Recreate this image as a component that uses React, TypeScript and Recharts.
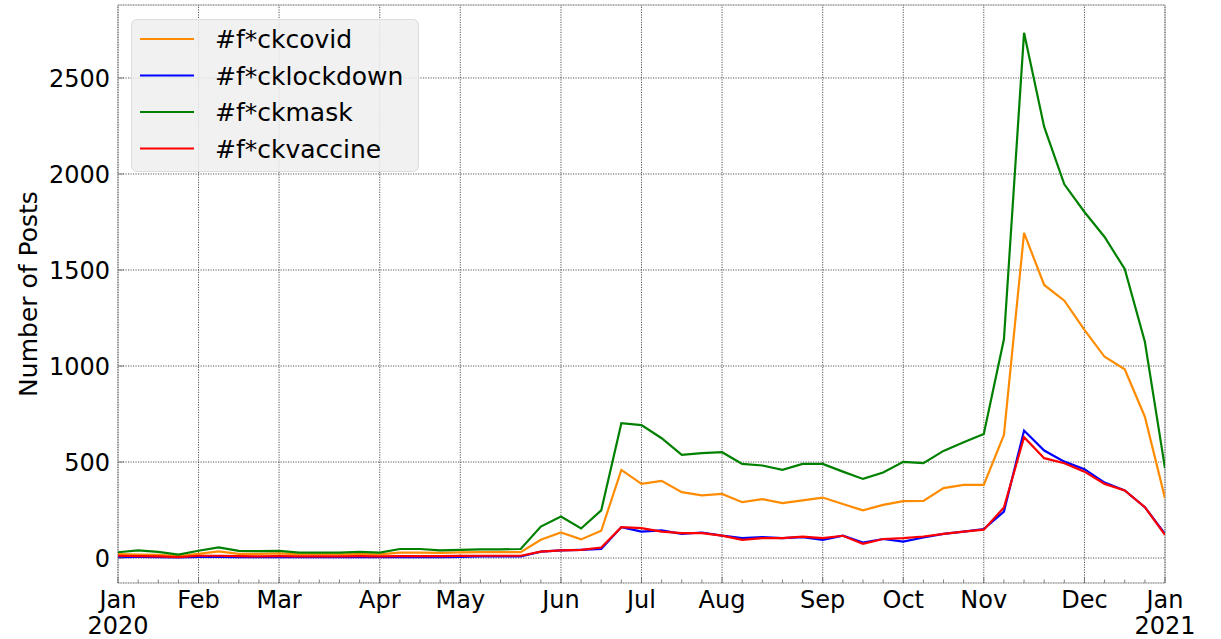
import React from 'react';
import {
  LineChart,
  Line,
  XAxis,
  YAxis,
  CartesianGrid,
  ReferenceLine,
  ReferenceArea,
  Legend,
} from 'recharts';

// Weekly index (week 0 = first week of Jan 2020, week 52 = first week of Jan 2021)
const WEEKS = [
  0, 1, 2, 3, 4, 5, 6, 7, 8, 9, 10, 11, 12, 13, 14, 15, 16, 17, 18, 19, 20,
  21, 22, 23, 24, 25, 26, 27, 28, 29, 30, 31, 32, 33, 34, 35, 36, 37, 38, 39,
  40, 41, 42, 43, 44, 45, 46, 47, 48, 49, 50, 51, 52,
];

const COVID = [
  20, 18, 16, 10, 22, 35, 22, 22, 24, 19, 19, 19, 21, 19, 28, 28, 27, 29, 31,
  31, 31, 95, 133, 97, 142, 459, 386, 402, 343, 326, 334, 291, 307, 286, 300,
  315, 281, 248, 277, 296, 298, 364, 381, 381, 641, 1693, 1422, 1340, 1188,
  1048, 983, 736, 312,
];

const LOCKDOWN = [
  5, 6, 5, 3, 6, 6, 5, 5, 5, 4, 4, 4, 5, 4, 5, 5, 5, 6, 8, 8, 8, 33, 40, 43,
  47, 161, 138, 144, 126, 133, 117, 104, 109, 104, 109, 95, 116, 81, 99, 86,
  107, 126, 138, 151, 242, 664, 560, 502, 463, 393, 352, 265, 126,
];

const MASK = [
  30, 40, 32, 18, 38, 55, 37, 36, 37, 28, 28, 28, 32, 28, 47, 47, 40, 42, 45,
  45, 47, 164, 216, 154, 248, 702, 692, 624, 537, 546, 551, 490, 482, 459, 490,
  490, 450, 412, 445, 501, 494, 558, 603, 646, 1139, 2735, 2245, 1946, 1802,
  1672, 1505, 1126, 468,
];

const VACCINE = [
  12, 10, 9, 5, 12, 12, 10, 9, 10, 9, 9, 9, 10, 9, 10, 10, 10, 11, 12, 12, 12,
  33, 40, 43, 55, 161, 156, 138, 130, 130, 117, 95, 104, 104, 112, 104, 116,
  74, 99, 104, 112, 126, 138, 148, 263, 629, 520, 494, 450, 386, 352, 265, 121,
];

const SERIES_KEYS = ['covid', 'lockdown', 'mask', 'vaccine'];
const SERIES_NAMES = ['#f*ckcovid', '#f*cklockdown', '#f*ckmask', '#f*ckvaccine'];
const SERIES_COLORS = ['#ff8c00', '#0000ff', '#008000', '#ff0000'];

const MONTH_TICK_WEEKS = [0, 4, 8, 13, 17, 22, 26, 30, 35, 39, 43, 48, 52];
const MONTH_TICK_LABELS = [
  'Jan', 'Feb', 'Mar', 'Apr', 'May', 'Jun', 'Jul', 'Aug', 'Sep', 'Oct', 'Nov', 'Dec', 'Jan',
];
const YEAR_TICK_LABELS = ['2020', '', '', '', '', '', '', '', '', '', '', '', '2021'];

const Y_TICKS = [0, 500, 1000, 1500, 2000, 2500];
const Y_DOMAIN = [-130, 2880];
const Y_LABEL = 'Number of Posts';

const FONT = "'DejaVu Sans', sans-serif";
const GRID_COLOR = '#2a2a2a';
const GRID_DASH = '1.2 1.3';

const data = WEEKS.map((w, i) => ({
  week: w,
  covid: COVID[i],
  lockdown: LOCKDOWN[i],
  mask: MASK[i],
  vaccine: VACCINE[i],
}));

const XTick = (props: any) => {
  const { x, y, payload } = props;
  const idx = MONTH_TICK_WEEKS.indexOf(payload.value);
  const major = idx >= 0;
  return (
    <g>
      <line x1={x} x2={x} y1={y} y2={y - (major ? 6 : 3.5)} stroke="#666" strokeWidth={0.8} />
      {major && (
        <text x={x} y={y + 25} textAnchor="middle" fontSize={24} fill="#000" fontFamily={FONT}>
          {MONTH_TICK_LABELS[idx]}
        </text>
      )}
      {major && YEAR_TICK_LABELS[idx] && (
        <text x={x} y={y + 51} textAnchor="middle" fontSize={24} fill="#000" fontFamily={FONT}>
          {YEAR_TICK_LABELS[idx]}
        </text>
      )}
    </g>
  );
};

const YTick = (props: any) => {
  const { x, y, payload } = props;
  return (
    <g>
      <line x1={x + 8} x2={x + 14} y1={y} y2={y} stroke="#666" strokeWidth={0.8} />
      <text x={x} y={y} dy="0.36em" textAnchor="end" fontSize={24} fill="#000" fontFamily={FONT}>
        {payload.value}
      </text>
    </g>
  );
};

const LegendBox = () => (
  <div
    style={{
      width: 288,
      height: 153,
      boxSizing: 'border-box',
      background: 'rgba(238,238,238,0.85)',
      border: '1px solid #dcdcdc',
      borderRadius: 6,
    }}
  >
    <svg width={286} height={151} style={{ display: 'block' }}>
      {SERIES_NAMES.map((name, i) => {
        const cy = 19 + i * 36.5;
        return (
          <g key={name}>
            <line x1={8} x2={62} y1={cy} y2={cy} stroke={SERIES_COLORS[i]} strokeWidth={2.2} />
            <text
              x={83}
              y={cy}
              dy="0.36em"
              fontSize={25}
              fill="#000"
              fontFamily={FONT}
            >
              {name}
            </text>
          </g>
        );
      })}
    </svg>
  </div>
);

export default function App() {
  return (
    <div
      style={{
        position: 'absolute',
        left: 0,
        top: 0,
        width: 1221,
        height: 639,
        background: '#fff',
        fontFamily: FONT,
      }}
    >
      <LineChart
        width={1221}
        height={639}
        data={data}
        margin={{ top: 5, right: 56, bottom: 0, left: 0 }}
      >
        <CartesianGrid
          vertical={false}
          stroke={GRID_COLOR}
          strokeDasharray={GRID_DASH}
          strokeWidth={0.8}
        />
        {MONTH_TICK_WEEKS.map((w) => (
          <ReferenceLine
            key={'g' + w}
            x={w}
            stroke={GRID_COLOR}
            strokeDasharray={GRID_DASH}
            strokeWidth={0.8}
          />
        ))}
        <XAxis
          dataKey="week"
          type="number"
          domain={[0, 52]}
          ticks={WEEKS}
          interval={0}
          tick={<XTick />}
          tickLine={false}
          axisLine={false}
          tickSize={0}
          tickMargin={0}
          height={56}
          allowDataOverflow
        />
        <YAxis
          type="number"
          domain={Y_DOMAIN}
          ticks={Y_TICKS}
          interval={0}
          tick={<YTick />}
          tickLine={false}
          axisLine={false}
          tickSize={0}
          tickMargin={8}
          width={118}
          allowDataOverflow
          label={{
            value: Y_LABEL,
            angle: -90,
            position: 'insideLeft',
            offset: 28,
            style: { textAnchor: 'middle', fontSize: 25, fill: '#000', fontFamily: FONT },
          }}
        />
        {SERIES_KEYS.map((k, i) => (
          <Line
            key={k}
            type="linear"
            dataKey={k}
            name={SERIES_NAMES[i]}
            stroke={SERIES_COLORS[i]}
            strokeWidth={2.2}
            dot={false}
            activeDot={false}
            isAnimationActive={false}
          />
        ))}
        <ReferenceArea
          x1={0}
          x2={52}
          y1={Y_DOMAIN[0]}
          y2={Y_DOMAIN[1]}
          fill="none"
          fillOpacity={0}
          stroke="#bdbdbd"
          strokeWidth={1}
        />
        <Legend
          layout="vertical"
          align="center"
          verticalAlign="middle"
          content={() => <LegendBox />}
          wrapperStyle={{ left: 131, top: 19, width: 288, height: 153 }}
        />
      </LineChart>
    </div>
  );
}
